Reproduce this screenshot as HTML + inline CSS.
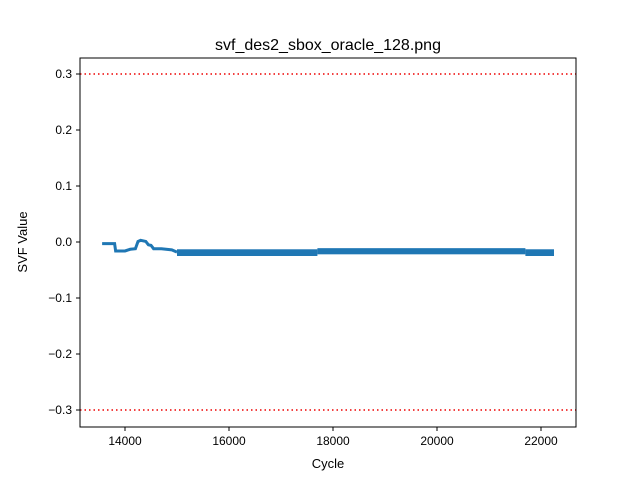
<!DOCTYPE html>
<html><head><meta charset="utf-8"><style>
body{margin:0;background:#fff;font-family:"Liberation Sans","DejaVu Sans",sans-serif}
</style></head><body>
<svg id="c" width="640" height="480" xmlns="http://www.w3.org/2000/svg">
<rect width="640" height="480" fill="#fff"/>
<text x="328" y="50" font-size="16" text-anchor="middle">svf_des2_sbox_oracle_128.png</text>
<text x="328" y="468" font-size="13" text-anchor="middle">Cycle</text>
<text x="27" y="242" font-size="13" text-anchor="middle" transform="rotate(-90 27 242)">SVF Value</text>
<g id="plot"></g>
<rect x="80" y="58" width="496" height="369" fill="none" stroke="#000" stroke-width="1"/>
</svg>
<script>
const xTicks=[14000,16000,18000,20000,22000];
const yTicks=[0.3,0.2,0.1,0.0,-0.1,-0.2,-0.3];
const thresholds=[0.3,-0.3];
const cycles=[13560,13800,13820,14000,14100,14200,14250,14300,14400,14450,14500,14550,14700,14900,15000];
const svf=[-0.003,-0.003,-0.016,-0.016,-0.013,-0.012,0.001,0.003,0.001,-0.005,-0.006,-0.012,-0.012,-0.014,-0.018];
const bandStart=[15000,17700,21700];
const bandEnd=[17700,21700,22250];
const bandHi=[-0.013,-0.011,-0.013];
const bandLo=[-0.025,-0.022,-0.025];
const X=v=>125+(v-14000)*0.052;
const Y=v=>242-v*560;
const ns="http://www.w3.org/2000/svg";
const g=document.getElementById('plot');
function mk(t,a){const e=document.createElementNS(ns,t);for(const k in a)e.setAttribute(k,a[k]);g.appendChild(e);return e;}
xTicks.forEach(t=>{
 const l=mk('line',{x1:X(t),x2:X(t),y1:427,y2:431,stroke:'#000'});
 
 
 const tx=mk('text',{x:X(t),y:445,'font-size':12,'text-anchor':'middle'});tx.textContent=t;
 
 
});
yTicks.forEach(t=>{
 const l=mk('line',{x1:76,x2:80,y1:Y(t),y2:Y(t),stroke:'#000'});
 
 
 const tx=mk('text',{x:72,y:Y(t)+4,'font-size':12,'text-anchor':'end'});tx.textContent=(t<0?'\u2212':'')+Math.abs(t).toFixed(1);
 
 
});
thresholds.forEach(t=>{
 const l=mk('line',{x1:80,x2:576,y1:Y(t),y2:Y(t),stroke:'#e00',"stroke-width":1.6,"stroke-dasharray":"1.5,3"});
 
 
});
const pts=cycles.map((c,i)=>X(c)+','+Y(svf[i])).join(' ');
const pl=mk('polyline',{points:pts,fill:'none',stroke:'#1f77b4','stroke-width':3});


bandStart.forEach((s,i)=>{
 const r=mk('rect',{x:X(s),y:Y(bandHi[i]),width:X(bandEnd[i])-X(s),height:Y(bandLo[i])-Y(bandHi[i]),fill:'#1f77b4'});
 
 
});
</script>
</body></html>
